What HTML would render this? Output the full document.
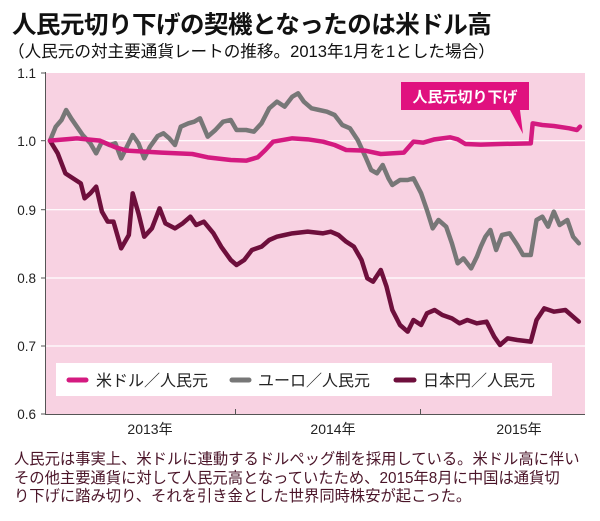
<!DOCTYPE html>
<html><head><meta charset="utf-8"><style>
html,body{margin:0;padding:0;background:#fff;}
body{width:600px;height:521px;position:relative;overflow:hidden;font-family:"Liberation Sans","Noto Sans CJK JP",sans-serif;}
.t{position:absolute;white-space:nowrap;}
</style></head><body>
<div class="t" style="left:12px;top:6px;font-size:24.5px;font-weight:bold;color:#111;letter-spacing:-0.5px;">人民元切り下げの契機となったのは米ドル高</div>
<div class="t" style="left:8px;top:38px;font-size:16.6px;color:#111;">（人民元の対主要通貨レートの推移。2013年1月を1とした場合）</div>
<svg width="600" height="521" style="position:absolute;left:0;top:0" xmlns="http://www.w3.org/2000/svg">
<rect x="45" y="73" width="540" height="341" fill="#f8d2e2"/>
<g stroke="#fff" stroke-width="1.2">
<line x1="45" x2="585" y1="140.7" y2="140.7"/><line x1="45" x2="585" y1="209.7" y2="209.7"/>
<line x1="45" x2="585" y1="278" y2="278"/><line x1="45" x2="585" y1="346" y2="346"/>
</g>
<g stroke="#555" stroke-width="1">
<line x1="45.5" y1="72" x2="45.5" y2="414"/><line x1="45" y1="414.5" x2="585" y2="414.5"/>
<line x1="41" y1="73" x2="45" y2="73"/><line x1="41" y1="140.7" x2="45" y2="140.7"/><line x1="41" y1="209.7" x2="45" y2="209.7"/><line x1="41" y1="278" x2="45" y2="278"/><line x1="41" y1="346" x2="45" y2="346"/><line x1="41" y1="414" x2="45" y2="414"/>
<line x1="235.5" y1="409" x2="235.5" y2="414"/><line x1="420.5" y1="409" x2="420.5" y2="414"/>
</g>
<g font-size="13.5" fill="#222" text-anchor="end" font-family="Liberation Sans,sans-serif">
<text x="36" y="78">1.1</text><text x="36" y="146">1.0</text><text x="36" y="215">0.9</text><text x="36" y="283">0.8</text><text x="36" y="351">0.7</text><text x="36" y="419">0.6</text>
</g>
<g font-size="14" fill="#222" text-anchor="middle" font-family="Liberation Sans,Noto Sans CJK JP,sans-serif">
<text x="150" y="434">2013年</text><text x="333" y="434">2014年</text><text x="519" y="434">2015年</text>
</g>
<g transform="translate(0,60) scale(0.384615,0.333333)" fill="none" stroke-linejoin="round" stroke-linecap="round">
<polyline vector-effect="non-scaling-stroke" stroke="#777" stroke-width="4.5" points="130,242 145,200 160,180 172,150 185,175 200,200 215,225 235,250 250,280 265,245 285,255 300,250 315,295 330,260 345,225 360,250 375,295 390,260 410,228 425,220 440,235 455,255 470,200 490,190 505,185 520,175 540,230 560,210 580,185 600,180 615,210 640,210 660,215 680,190 700,145 720,125 740,140 760,110 775,100 790,125 810,145 830,150 850,155 870,165 890,195 910,205 930,240 950,290 965,330 980,340 995,315 1010,355 1020,375 1040,360 1060,360 1075,355 1095,400 1110,450 1125,505 1140,480 1160,500 1175,550 1190,610 1205,595 1225,625 1240,590 1250,560 1262,530 1275,510 1290,570 1305,525 1325,520 1345,555 1360,585 1380,585 1395,480 1410,470 1425,500 1440,455 1455,495 1475,480 1490,530 1505,550"/>
<polyline vector-effect="non-scaling-stroke" stroke="#6e0f3c" stroke-width="4.5" points="130,242 150,280 170,340 190,355 210,370 220,415 235,400 250,380 265,455 280,485 295,485 315,565 335,525 345,400 360,460 375,530 395,505 415,445 430,490 455,505 475,490 495,470 510,495 530,485 555,520 575,560 600,600 615,615 635,600 655,570 680,560 700,540 720,530 740,525 760,520 800,515 840,520 860,515 880,525 900,545 920,560 940,600 955,655 970,665 990,630 1005,680 1020,750 1040,795 1060,815 1075,780 1095,795 1110,760 1130,750 1150,765 1175,775 1195,790 1215,780 1240,790 1265,785 1285,830 1300,855 1320,835 1345,840 1380,845 1395,780 1415,745 1440,755 1470,750 1490,770 1505,785"/>
<polyline vector-effect="non-scaling-stroke" stroke="#d41a80" stroke-width="4.5" points="130,242 200,235 260,242 300,262 330,272 420,278 500,282 540,292 600,300 640,302 670,292 690,270 710,245 760,235 800,238 840,245 870,255 900,270 950,272 990,282 1050,278 1075,245 1100,248 1130,238 1170,232 1190,238 1210,252 1250,254 1300,252 1380,250 1385,190 1410,195 1440,198 1480,205 1500,210 1508,200"/>
</g>
<polygon points="401,82 529,82 529,110 520,110 523,134 510,110 401,110" fill="#e0117f"/>
<text x="465" y="102" text-anchor="middle" font-size="15" font-weight="bold" fill="#fff" font-family="Liberation Sans,Noto Sans CJK JP,sans-serif">人民元切り下げ</text>
<rect x="56" y="363" width="496" height="33" fill="#fff"/>
<g stroke-width="5" stroke-linecap="round">
<line x1="69" x2="86" y1="380" y2="380" stroke="#d41a80"/>
<line x1="232" x2="249" y1="380" y2="380" stroke="#777"/>
<line x1="396" x2="414" y1="380" y2="380" stroke="#6e0f3c"/>
</g>
<g font-size="16" fill="#222" font-family="Liberation Sans,Noto Sans CJK JP,sans-serif">
<text x="96" y="386">米ドル／人民元</text><text x="258" y="386">ユーロ／人民元</text><text x="423" y="386">日本円／人民元</text>
</g>
</svg>
<div class="t" style="left:14px;top:451px;font-size:15.3px;line-height:18.5px;color:#4a1428;">人民元は事実上、米ドルに連動するドルペッグ制を採用している。米ドル高に伴い<br>その他主要通貨に対して人民元高となっていたため、2015年8月に中国は通貨切<br>り下げに踏み切り、それを引き金とした世界同時株安が起こった。</div>
</body></html>
